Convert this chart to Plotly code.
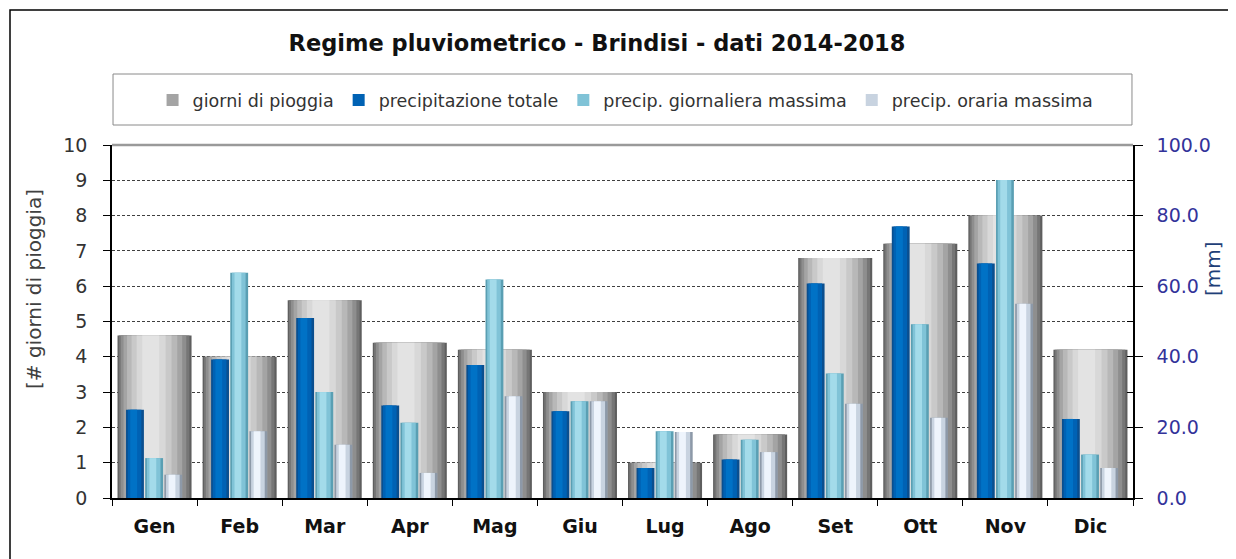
import plotly.graph_objects as go

months = ["Gen", "Feb", "Mar", "Apr", "Mag", "Giu", "Lug", "Ago", "Set", "Ott", "Nov", "Dic"]
giorni_pioggia = [4.6, 4.0, 5.6, 4.4, 4.2, 3.0, 1.0, 1.8, 6.8, 7.2, 8.0, 4.2]
precip_totale = [25.0, 39.2, 51.0, 26.2, 37.7, 24.6, 8.5, 10.9, 60.8, 76.9, 66.4, 22.4]
precip_giorn_max = [11.3, 63.8, 30.0, 21.3, 61.9, 27.4, 18.9, 16.5, 35.3, 49.2, 90.1, 12.3]
precip_orar_max = [6.6, 18.9, 15.1, 7.1, 28.8, 27.4, 18.7, 13.0, 26.7, 22.7, 55.0, 8.5]

FONT = "DejaVu Sans"
# the page body adds an 8px offset; margins compensate so the plot area lands where it should
OFF = 8

fig = go.Figure()

# gray "cylinder" bars (left axis), layered to imitate shading
gray_layers = [
    (0.87, 0.000, "#5e5e5e"),
    (0.83, -0.005, "#767676"),
    (0.77, -0.012, "#8e8e8e"),
    (0.69, -0.020, "#a4a4a4"),
    (0.59, -0.028, "#b8b8b8"),
    (0.47, -0.035, "#c9c9c9"),
    (0.34, -0.040, "#d8d8d8"),
    (0.20, -0.045, "#e3e3e3"),
]
for i, (w, sh, col) in enumerate(gray_layers):
    fig.add_trace(go.Bar(
        x=months, y=giorni_pioggia, width=w, offset=-w / 2 + sh,
        marker=dict(color=col, line=dict(width=0)),
        name="giorni di pioggia", legendgroup="g", showlegend=(i == 3),
        yaxis="y", hoverinfo="skip" if i != 3 else None,
    ))

series = [
    ("precipitazione totale", precip_totale, -0.335, ["#0a4f8f", "#0062b4", "#0072c6"]),
    ("precip. giornaliera massima", precip_giorn_max, -0.11, ["#5a9fb3", "#80c3d7", "#a3dbea"]),
    ("precip. oraria massima", precip_orar_max, 0.115, ["#8d99a8", "#c8d3e0", "#eef4fc"]),
]
for name, vals, off, cols in series:
    layers = [(0.21, 0.0), (0.16, 0.02), (0.08, 0.05)]
    for i, ((w, inset), col) in enumerate(zip(layers, cols)):
        fig.add_trace(go.Bar(
            x=months, y=vals, width=w, offset=off + inset,
            marker=dict(color=col, line=dict(width=0)),
            name=name, legendgroup=name, showlegend=(i == 1),
            yaxis="y2", hoverinfo="skip" if i != 1 else None,
        ))

fig.update_layout(
    width=1236, height=559,
    paper_bgcolor="white", plot_bgcolor="white",
    margin=dict(l=112 - OFF, r=111, t=145 - OFF, b=69, autoexpand=False),
    barmode="overlay",
    font=dict(family=FONT, color="#222222"),
    title=dict(
        text="<b>Regime pluviometrico - Brindisi - dati 2014-2018</b>",
        x=(597 - OFF) / 1236, xref="container", xanchor="center",
        y=1 - (43 - OFF) / 559, yref="container", yanchor="middle",
        font=dict(family=FONT, size=22.5, color="#111111"),
    ),
    legend=dict(
        orientation="h", x=0.503, xanchor="center", y=1.127, yanchor="middle",
        font=dict(family=FONT, size=17.5, color="#333333"),
        bgcolor="rgba(0,0,0,0)", traceorder="normal",
        itemwidth=30,
    ),
    showlegend=True,
    xaxis=dict(
        type="category", showline=True, linecolor="#000000", linewidth=1.5,
        ticks="outside", tickson="boundaries", ticklen=6, tickcolor="#000000",
        tickfont=dict(family=FONT, size=19, color="#111111", weight="bold"),
        ticklabelstandoff=10,
        showgrid=False, range=[-0.5, 11.5],
    ),
    yaxis=dict(
        range=[0, 10], dtick=1, showline=True, linecolor="#000000", linewidth=1.5,
        ticks="outside", ticklen=7, tickcolor="#000000",
        tickfont=dict(family=FONT, size=19, color="#333333"),
        ticklabelstandoff=12,
        showgrid=True, gridcolor="#404040", gridwidth=1, griddash="3px,2px",
        zeroline=False,
    ),
    yaxis2=dict(
        range=[0, 100], dtick=20, overlaying="y", side="right",
        showline=True, linecolor="#000000", linewidth=1.5,
        ticks="outside", ticklen=8, tickcolor="#000000",
        minor=dict(dtick=10, ticks="inside", ticklen=6, tickcolor="#000000"),
        tickformat=".1f",
        tickfont=dict(family=FONT, size=19, color="#33339a"),
        ticklabelstandoff=10,
        showgrid=False, zeroline=False,
    ),
    annotations=[
        dict(text="[# giorni di pioggia]", textangle=-90, showarrow=False,
             xref="paper", yref="paper", x=(34 - 112) / 1021, y=(498 - 289) / 353,
             xanchor="center", yanchor="middle",
             font=dict(family=FONT, size=20, color="#404040")),
        dict(text="[mm]", textangle=-90, showarrow=False,
             xref="paper", yref="paper", x=(1213 - 112) / 1021, y=(498 - 269) / 353,
             xanchor="center", yanchor="middle",
             font=dict(family=FONT, size=20, color="#1f3f78")),
    ],
    shapes=[
        # top border of plot area
        dict(type="line", xref="paper", yref="paper", x0=0, x1=1, y0=1, y1=1,
             line=dict(color="#9a9a9a", width=2.5)),
        # legend box
        dict(type="rect", xref="paper", yref="paper", x0=0.001, x1=0.999,
             y0=(498 - 125) / 353, y1=(498 - 74) / 353,
             line=dict(color="#8a8a8a", width=1), fillcolor="rgba(0,0,0,0)", layer="below"),
        # outer chart frame
        dict(type="rect", xref="paper", yref="paper",
             x0=(10 - 112) / 1021, x1=(1260 - 112) / 1021,
             y0=(498 - 590) / 353, y1=(498 - 10) / 353,
             line=dict(color="#000000", width=1.5), fillcolor="rgba(0,0,0,0)"),
    ],
)

fig.write_html("out.html")
